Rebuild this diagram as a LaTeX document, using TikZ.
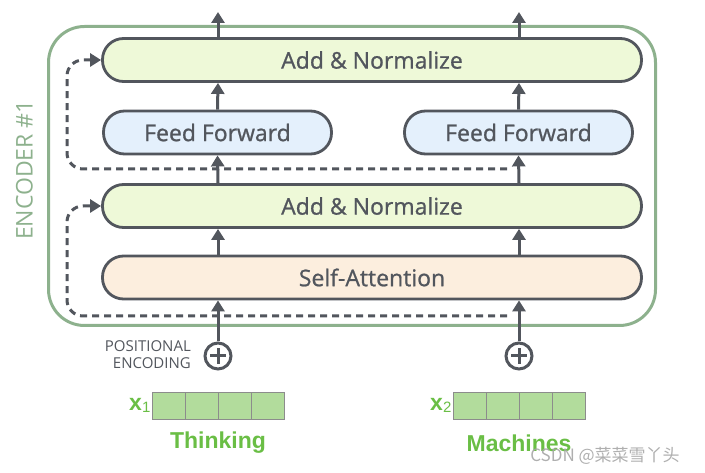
\documentclass[tikz,border=0pt]{standalone}
\usepackage{fontspec}
\setmainfont{Open Sans}
\newfontfamily\layerfont{Open Sans}[FakeBold=0.9]
\newfontfamily\wordfont{Liberation Sans}
\newfontfamily\cjkfont{Noto Sans CJK SC}
\usetikzlibrary{arrows.meta}
\definecolor{edge}{HTML}{52565D}
\definecolor{normfill}{HTML}{EEF9D8}
\definecolor{fffill}{HTML}{E4F0FC}
\definecolor{safill}{HTML}{FCEEDE}
\definecolor{encgreen}{HTML}{8DB18D}
\definecolor{wordgreen}{HTML}{6ABE45}
\definecolor{cellfill}{HTML}{B2DC9C}

\begin{document}
\begin{tikzpicture}[x=1pt,y=-1pt,
    layer/.style={draw=edge,line width=2.8pt,rounded corners=21pt,minimum height=43pt,
                  inner sep=0pt,text=edge,font=\layerfont\fontsize{23}{26}\selectfont},
    addnorm/.style={layer,fill=normfill,minimum width=539pt},
    ffbox/.style={layer,fill=fffill,minimum width=228pt},
    sabox/.style={layer,fill=safill,minimum width=539pt},
    arr/.style={-{Triangle[length=11pt,width=13pt]},line width=3pt,draw=edge},
    resid/.style={-{Triangle[length=11pt,width=13pt]},line width=3pt,draw=edge,
                  dash pattern=on 7pt off 5pt,rounded corners=16pt},
    plusnode/.style={circle,draw=edge,line width=3pt,minimum size=26pt,inner sep=0pt},
    cell/.style={draw=black!45,line width=0.9pt,fill=cellfill,minimum width=33pt,
                 minimum height=27pt,inner sep=0pt},
    word/.style={text=wordgreen,font=\wordfont\bfseries\fontsize{23}{26}\selectfont}]
\useasboundingbox (0,0) rectangle (705,473);
% Encoder frame and its label
\node[draw=encgreen,line width=3pt,rounded corners=36pt,minimum width=607pt,
      minimum height=299pt] (encoder) at (352,176) {};
\node[rotate=90,text=encgreen,font=\fontsize{23}{26}\selectfont] (enclabel) at (24.5,170) {ENCODER \#1};
% The layers
\node[addnorm] (an1) at (372,60) {Add \& Normalize};
\node[ffbox] (ff1) at (217.5,132.5) {Feed Forward};
\node[ffbox] (ff2) at (518.5,132.5) {Feed Forward};
\node[addnorm] (an2) at (372,206) {Add \& Normalize};
\node[sabox] (sa) at (372,277.5) {Self-Attention};
% Positional encoding
\node[plusnode] (plus1) at (218,356) {};
\node[plusnode] (plus2) at (519,356) {};
\foreach \p in {plus1,plus2} {
    \draw[edge,line width=3pt] ([xshift=-8pt]\p.center) -- ([xshift=8pt]\p.center);
    \draw[edge,line width=3pt] ([yshift=-8pt]\p.center) -- ([yshift=8pt]\p.center);
}
\node[anchor=east,align=right,text=edge,font=\fontsize{15}{17}\selectfont,inner sep=0pt]
    (posenc) at (191,354.5) {POSITIONAL\\ENCODING};
% Input vectors
\foreach \i in {0,...,3} {
    \node[cell] (xa\i) at (168.5+33*\i,405.5) {};
    \node[cell] (xb\i) at (469.5+33*\i,405.5) {};
}
\node[word,anchor=east,inner sep=1pt] (xalabel) at (xa0.west) {x\raisebox{-2pt}{\fontsize{15}{15}\mdseries\selectfont 1}};
\node[word,anchor=east,inner sep=1pt] (xblabel) at (xb0.west) {x\raisebox{-2pt}{\fontsize{15}{15}\mdseries\selectfont 2}};
\node[word] (thinking) at (218,443) {Thinking};
\node[word] (machines) at (519,443) {Machines};
% Arrows up through the layers
\coordinate (out1) at (218,12);
\coordinate (out2) at (519,12);
\foreach \p/\o/\f in {plus1/out1/ff1,plus2/out2/ff2} {
    \draw[arr] (\p.north) -- (\p |- sa.south);
    \draw[arr] (\p |- sa.north) -- (\p |- an2.south);
    \draw[arr] (\p |- an2.north) -- (\f.south);
    \draw[arr] (\f.north) -- (\p |- an1.south);
    \draw[arr] (\p |- an1.north) -- (\o);
}
% Residual connections
\coordinate (res1) at (519,316);
\coordinate (res2) at (519,169);
\draw[resid,shorten <=12pt] (res1) -- (67,316) -- (67,206) -- (an2.west);
\draw[resid,shorten <=12pt] (res2) -- (67,169) -- (67,60) -- (an1.west);
% Watermark
\node[text=black!35,opacity=0.9,font=\cjkfont\fontsize{17}{20}\selectfont] (mark) at (605,456) {CSDN @菜菜雪丫头};
\end{tikzpicture}
\end{document}
